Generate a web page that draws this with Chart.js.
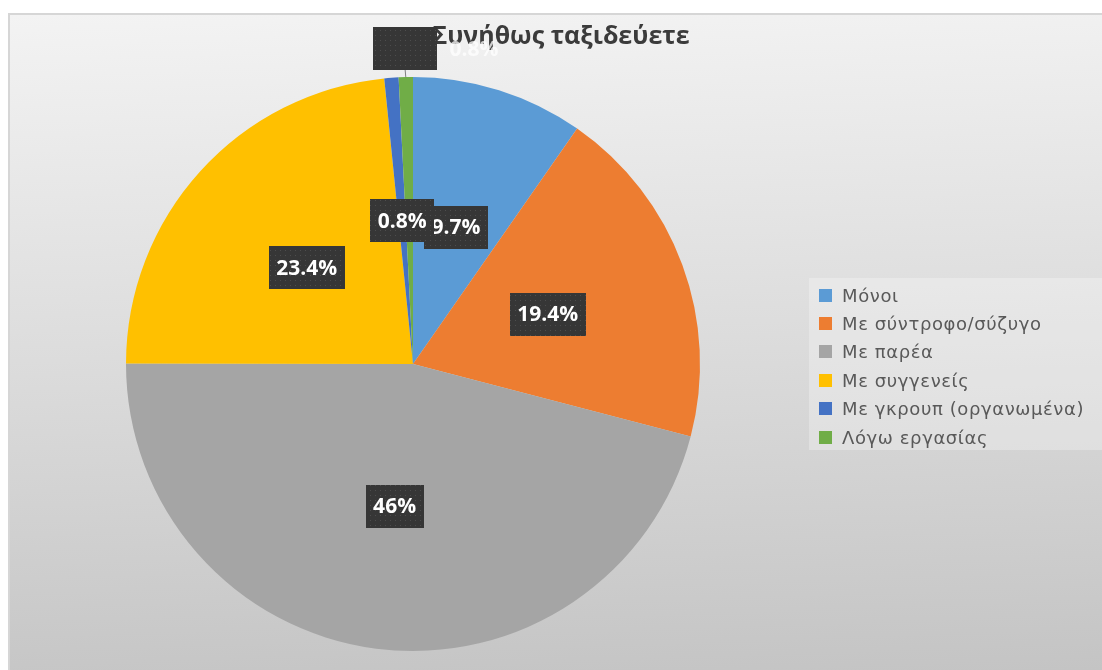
<!DOCTYPE html>
<html>
<head>
<meta charset="utf-8">
<script src="https://cdn.jsdelivr.net/npm/chart.js@4.4.1/dist/chart.umd.min.js"></script>
<style>
  html, body { margin: 0; padding: 0; background: #fff; }
  body { width: 1102px; height: 670px; position: relative; overflow: hidden; }
  #frame {
    position: absolute; left: 8px; top: 13px; width: 1094px; height: 657px;
    box-sizing: border-box;
    border-top: 2px solid #d6d6d6; border-left: 2px solid #d6d6d6;
    background: linear-gradient(178deg, #f3f3f3 0%, #dcdcdc 50%, #c4c4c4 100%);
  }
  #pieChart { position: absolute; left: 8px; top: 13px; }
  #legend {
    position: absolute; left: 809px; top: 278px; width: 293px; height: 172px;
    background: rgba(255, 255, 255, 0.28);
    font-family: 'DejaVu Sans', sans-serif; font-size: 18px; letter-spacing: 0.6px; color: #595959;
    box-sizing: border-box; padding-top: 3px;
  }
  #legend .item { height: 28.4px; display: flex; align-items: center; white-space: nowrap; }
  #legend .swatch { width: 13px; height: 13px; margin-left: 10px; margin-right: 10px; }
</style>
</head>
<body>
<div id="frame"></div>
<canvas id="pieChart" width="1094" height="657"></canvas>
<div id="legend"></div>
<script>
const chartTitle = 'Συνήθως ταξιδεύετε';
const categories = ['Μόνοι', 'Με σύντροφο/σύζυγο', 'Με παρέα', 'Με συγγενείς', 'Με γκρουπ (οργανωμένα)', 'Λόγω εργασίας'];
const shares = [9.7, 19.4, 46, 23.4, 0.8, 0.8];
const shareLabels = ['9.7%', '19.4%', '46%', '23.4%', '0.8%', '0.8%'];
const sliceColors = ['#5B9BD5', '#ED7D31', '#A5A5A5', '#FFC000', '#4472C4', '#70AD47'];

// dotted dark fill used by the Excel-style label boxes
function makeBoxPattern(ctx) {
  const tile = document.createElement('canvas');
  tile.width = 5;
  tile.height = 5;
  const t = tile.getContext('2d');
  t.fillStyle = '#363636';
  t.fillRect(0, 0, 5, 5);
  t.fillStyle = '#4d4d4d';
  t.fillRect(2, 2, 1, 1);
  return ctx.createPattern(tile, 'repeat');
}

const labelPlugin = {
  id: 'excelLabels',
  afterDatasetsDraw(chart) {
    const ctx = chart.ctx;
    const meta = chart.getDatasetMeta(0);
    const pattern = makeBoxPattern(ctx);

    ctx.save();
    // title (partly hidden by the outside label, as in the original)
    ctx.font = 'bold 25px "Open Sans", sans-serif';
    ctx.fillStyle = '#3b3b3b';
    ctx.textAlign = 'center';
    ctx.textBaseline = 'alphabetic';
    ctx.fillText(chartTitle, 553, 31);

    ctx.font = 'bold 21px "Open Sans", sans-serif';
    ctx.textBaseline = 'middle';
    meta.data.forEach((arc, i) => {
      let pos;
      const outside = i === meta.data.length - 1;
      if (outside) {
        const mid = (arc.startAngle + arc.endAngle) / 2;
        const r = arc.outerRadius + 29;
        pos = { x: arc.x + r * Math.cos(mid), y: arc.y + r * Math.sin(mid) };
        // leader line
        ctx.strokeStyle = '#7f7f7f';
        ctx.lineWidth = 1;
        ctx.beginPath();
        ctx.moveTo(arc.x + arc.outerRadius * Math.cos(mid), arc.y + arc.outerRadius * Math.sin(mid));
        ctx.lineTo(pos.x, pos.y + 21);
        ctx.stroke();
      } else {
        pos = arc.tooltipPosition();
      }
      const text = shareLabels[i];
      const tw = ctx.measureText(text).width;
      const w = tw + 15;
      const h = 43;
      ctx.fillStyle = pattern;
      ctx.fillRect(Math.round(pos.x - w / 2), Math.round(pos.y - h / 2), Math.round(w), h);
      ctx.textAlign = 'center';
      if (outside) {
        ctx.fillStyle = 'rgba(255, 255, 255, 0.75)';
        ctx.fillText(text, pos.x + 69, pos.y + 2);
      } else {
        ctx.fillStyle = '#ffffff';
        ctx.fillText(text, pos.x, pos.y + 1);
      }
    });
    ctx.restore();
  }
};

const canvas = document.getElementById('pieChart');
const ctx = canvas.getContext('2d');

new Chart(ctx, {
  type: 'pie',
  data: {
    labels: categories,
    datasets: [
      {
        data: shares,
        backgroundColor: sliceColors,
        borderWidth: 0
      }
    ]
  },
  options: {
    responsive: false,
    animation: false,
    devicePixelRatio: 1,
    layout: {
      padding: { left: 118, right: 402, top: 64, bottom: 19 }
    },
    plugins: {
      legend: { display: false },
      tooltip: { enabled: false },
      title: { display: false }
    }
  },
  plugins: [labelPlugin]
});

const legendEl = document.getElementById('legend');
categories.forEach((name, i) => {
  const row = document.createElement('div');
  row.className = 'item';
  const sw = document.createElement('span');
  sw.className = 'swatch';
  sw.style.background = sliceColors[i];
  const label = document.createElement('span');
  label.textContent = name;
  row.appendChild(sw);
  row.appendChild(label);
  legendEl.appendChild(row);
});
</script>
</body>
</html>
